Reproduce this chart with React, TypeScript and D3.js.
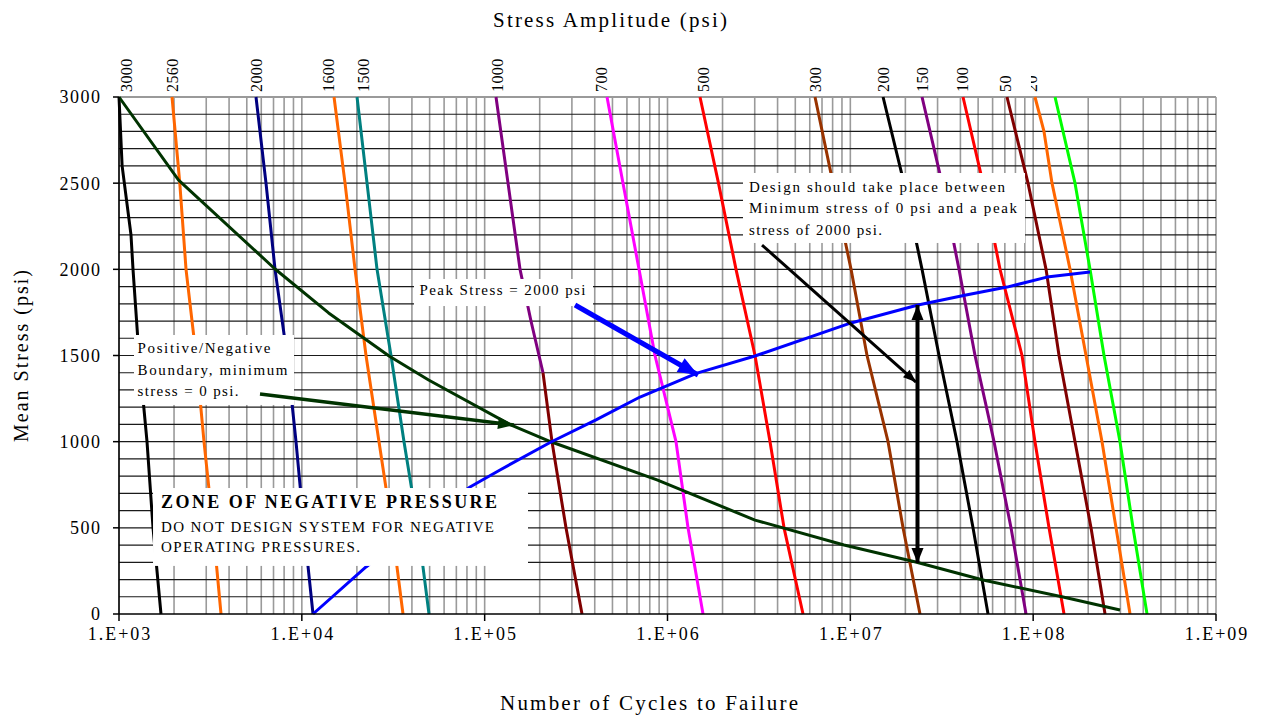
import React from "react";
import * as d3 from "d3";

type Pt = [number, number]; // [cycles to failure, mean stress psi]

// axis ticks
const xTickValues = [1e3, 1e4, 1e5, 1e6, 1e7, 1e8, 1e9];
const xTickLabels = ["1.E+03", "1.E+04", "1.E+05", "1.E+06", "1.E+07", "1.E+08", "1.E+09"];
const yTickValues = [0, 500, 1000, 1500, 2000, 2500, 3000];

// constant stress amplitude curves (psi)
const amp3000: Pt[] = [[1000, 3000], [1040, 2600], [1163, 2200], [1193, 2000], [1286, 1500], [1423, 1000], [1535, 500], [1697, 0]];
const amp2560: Pt[] = [[1950, 3000], [2150, 2500], [2326, 2000], [2638, 1500], [2917, 1000], [3268, 500], [3614, 0]];
const amp2000: Pt[] = [[5615, 3000], [6368, 2500], [7135, 2000], [8297, 1500], [9292, 1000], [10277, 500], [11510, 0]];
const amp1600: Pt[] = [[15000, 3000], [17230, 2500], [19540, 2000], [22440, 1500], [26430, 1000], [31130, 500], [35760, 0]];
const amp1500: Pt[] = [[20040, 3000], [22730, 2500], [25780, 2000], [30740, 1500], [36210, 1000], [43190, 500], [49610, 0]];
const amp1000Upper: Pt[] = [[115360, 3000], [134200, 2500], [156100, 2000], [179200, 1700], [208500, 1400]];
const amp1000Lower: Pt[] = [[208500, 1400], [233500, 1000], [278500, 500], [340800, 0]];
const amp700: Pt[] = [[466900, 3000], [571000, 2500], [698700, 2000], [854400, 1500], [1113000, 1000], [1295000, 500], [1564000, 0]];
const amp500: Pt[] = [[1506000, 3000], [1900000, 2500], [2370000, 2000], [3010000, 1500], [3637000, 1000], [4339000, 500], [5511000, 0]];
const amp300: Pt[] = [[6410000, 3000], [8040000, 2500], [10090000, 2000], [12340000, 1500], [16080000, 1000], [19420000, 500], [24050000, 0]];
const amp200: Pt[] = [[15100000, 3000], [19660000, 2500], [24670000, 2000], [30560000, 1500], [38320000, 1000], [46880000, 500], [56640000, 0]];
const amp150: Pt[] = [[24670000, 3000], [31740000, 2500], [39290000, 2000], [48080000, 1500], [61090000, 1000], [75650000, 500], [91400000, 0]];
const amp100: Pt[] = [[41330000, 3000], [53170000, 2500], [65870000, 2000], [86900000, 1500], [102300000, 1000], [122100000, 500], [147500000, 0]];
const amp50: Pt[] = [[71930000, 3000], [93720000, 2500], [117600000, 2000], [138500000, 1500], [169400000, 1000], [207200000, 500], [247200000, 0]];
const amp20: Pt[] = [[102300000, 3000], [114600000, 2800], [126800000, 2500], [159100000, 2000], [194600000, 1500], [238000000, 1000], [283900000, 500], [338700000, 0]];
const amp0: Pt[] = [[131700000, 3000], [169400000, 2500], [204600000, 2000], [244100000, 1500], [298500000, 1000], [351700000, 500], [419500000, 0]];

// minimum stress = 0 boundary and peak stress = 2000 psi line
const minStressZero: Pt[] = [[1000, 3000], [2118, 2518], [7135, 2002], [14010, 1747], [29990, 1497], [49370, 1358], [138800, 1097], [232100, 998], [876100, 778], [3010000, 545], [9235000, 400], [22790000, 302], [53190000, 197], [145600000, 99], [298500000, 23]];
const peakStress2000: Pt[] = [[11510, 0], [22440, 273], [83140, 737], [121300, 836], [230600, 998], [406300, 1126], [707400, 1259], [1450000, 1398], [3010000, 1497], [10090000, 1689], [23460000, 1793], [42920000, 1851], [71930000, 1897], [119000000, 1955], [204600000, 1985]];

const curves = [
  { id: "3000", label: "3000", data: amp3000 },
  { id: "2560", label: "2560", data: amp2560 },
  { id: "2000", label: "2000", data: amp2000 },
  { id: "1600", label: "1600", data: amp1600 },
  { id: "1500", label: "1500", data: amp1500 },
  { id: "1000a", label: "1000", data: amp1000Upper },
  { id: "1000b", label: "", data: amp1000Lower },
  { id: "700", label: "700", data: amp700 },
  { id: "500", label: "500", data: amp500 },
  { id: "300", label: "300", data: amp300 },
  { id: "200", label: "200", data: amp200 },
  { id: "150", label: "150", data: amp150 },
  { id: "100", label: "100", data: amp100 },
  { id: "50", label: "50", data: amp50 },
  { id: "20", label: "20", data: amp20 },
  { id: "0", label: "", data: amp0 },
];

const curveStyle: Record<string, { color: string; dx: number }> = {
  "3000": { color: "#000000", dx: 7 },
  "2560": { color: "#ff6600", dx: 0 },
  "2000": { color: "#000080", dx: 0 },
  "1600": { color: "#ff6600", dx: -6 },
  "1500": { color: "#008080", dx: 6 },
  "1000a": { color: "#800080", dx: 1 },
  "1000b": { color: "#800000", dx: 0 },
  "700": { color: "#ff00ff", dx: -6 },
  "500": { color: "#ff0000", dx: 3 },
  "300": { color: "#993300", dx: 0 },
  "200": { color: "#000000", dx: 0 },
  "150": { color: "#800080", dx: 0 },
  "100": { color: "#ff0000", dx: -1 },
  "50": { color: "#800000", dx: -2 },
  "20": { color: "#ff6600", dx: -4 },
  "0": { color: "#00ff00", dx: 0 },
};

// annotation boxes: [cycles, mean] of top-left and bottom-right corners
const noteBoxes = [
  {
    id: "zone", from: [1535, 731] as Pt, to: [172600, 279] as Pt, pad: 8,
    lines: [
      { text: "ZONE OF NEGATIVE PRESSURE", dy: 20, size: 18, bold: true, len: 336 },
      { text: "DO NOT DESIGN SYSTEM FOR NEGATIVE", dy: 44, size: 15, bold: false, len: 333 },
      { text: "OPERATING PRESSURES.", dy: 64, size: 15, bold: false, len: 199 },
    ],
  },
  {
    id: "posneg", from: [1208, 1619] as Pt, to: [9063, 1213] as Pt, pad: 3.5,
    lines: [
      { text: "Positive/Negative", dy: 18, size: 15, bold: false, len: 133 },
      { text: "Boundary, minimum", dy: 40, size: 15, bold: false, len: 150 },
      { text: "stress = 0 psi.", dy: 61, size: 15, bold: false, len: 101 },
    ],
  },
  {
    id: "peak", from: [41070, 1944] as Pt, to: [391300, 1787] as Pt, pad: 5.5,
    lines: [{ text: "Peak Stress = 2000 psi", dy: 16, size: 15, bold: false, len: 166 }],
  },
  {
    id: "design", from: [2588000, 2559] as Pt, to: [90240000, 2153] as Pt, pad: 6,
    lines: [
      { text: "Design should take place between", dy: 19, size: 15, bold: false, len: 256 },
      { text: "Minimum stress of  0 psi and a peak", dy: 40, size: 15, bold: false, len: 268 },
      { text: "stress of 2000 psi.", dy: 62, size: 15, bold: false, len: 133 },
    ],
  },
];

const noteArrows = [
  { id: "boundary", from: [5905, 1277] as Pt, to: [144700, 1097] as Pt, color: "#003300", width: 3.5, head: 16, half: 6, both: false },
  { id: "peak", from: [312000, 1793] as Pt, to: [1469000, 1387] as Pt, color: "#0000ff", width: 5, head: 20, half: 8, both: false },
  { id: "design", from: [3288000, 2141] as Pt, to: [22870000, 1346] as Pt, color: "#000000", width: 3, head: 13, half: 5, both: false },
  { id: "range", from: [23300000, 1793] as Pt, to: [23300000, 296] as Pt, color: "#000000", width: 4, head: 15, half: 6, both: true },
];

const font = "'Liberation Serif', 'Times New Roman', serif";

function head(tip: number[], base: number[], len: number, half: number) {
  const dx = tip[0] - base[0];
  const dy = tip[1] - base[1];
  const d = Math.hypot(dx, dy);
  const ux = dx / d, uy = dy / d;
  const bx = tip[0] - ux * len, by = tip[1] - uy * len;
  return `${tip[0]},${tip[1]} ${bx - uy * half},${by + ux * half} ${bx + uy * half},${by - ux * half}`;
}

export default function App() {
  const x = d3.scaleLog().domain([1e3, 1e9]).range([119, 1216]);
  const y = d3.scaleLinear().domain([0, 3000]).range([614, 97]);
  const line = d3.line<Pt>().x((d) => x(d[0])).y((d) => y(d[1]));
  const vGrid = x.ticks();
  const hGrid = y.ticks(30).filter((v) => v > 0 && v < 3000);
  const [x0, x1] = x.range();
  const [y0, y1] = y.range();

  return (
    <svg width={1262} height={716} style={{ position: "absolute", left: 0, top: 0, background: "#fff" }} fontFamily={font}>
      <defs>
        <clipPath id="clip20">
          <rect x={0} y={0} width={1037} height={100} />
        </clipPath>
      </defs>
      <rect width={1262} height={716} fill="#fff" />

      {vGrid.map((v) => (
        <line key={"v" + v} x1={x(v)} x2={x(v)} y1={y1} y2={y0} stroke="#9a9a9a" strokeWidth={1.6} />
      ))}
      {hGrid.map((v) => (
        <line key={"h" + v} x1={x0} x2={x1} y1={y(v)} y2={y(v)} stroke="#1a1a1a" strokeWidth={1.2} />
      ))}
      <line x1={x0} x2={x1} y1={y(3000)} y2={y(3000)} stroke="#9a9a9a" strokeWidth={2} />

      {curves.map((c) => (
        <path key={c.id} d={line(c.data) || ""} fill="none" stroke={curveStyle[c.id].color} strokeWidth={3} strokeLinejoin="round" />
      ))}
      <path d={line(minStressZero) || ""} fill="none" stroke="#003300" strokeWidth={3} strokeLinejoin="round" />
      <path d={line(peakStress2000) || ""} fill="none" stroke="#0000ff" strokeWidth={3} strokeLinejoin="round" />

      {/* axes */}
      <line x1={x0} x2={x0} y1={y1} y2={y0} stroke="#000" strokeWidth={1.5} />
      <line x1={x0} x2={x1} y1={y0} y2={y0} stroke="#000" strokeWidth={1.5} />
      {yTickValues.map((v) => (
        <g key={"yt" + v}>
          <line x1={x0 - 6} x2={x0} y1={y(v)} y2={y(v)} stroke="#000" strokeWidth={1.5} />
          <text x={101.5} y={y(v)} dy="0.36em" textAnchor="end" fontSize={18} style={{ letterSpacing: "1.5px" }}>
            {v}
          </text>
        </g>
      ))}
      {xTickValues.map((v, i) => (
        <g key={"xt" + v}>
          <line x1={x(v)} x2={x(v)} y1={y0} y2={y0 + 7} stroke="#000" strokeWidth={1.5} />
          <text x={x(v) + 1} y={640} textAnchor="middle" fontSize={18} style={{ letterSpacing: "2px" }}>
            {xTickLabels[i]}
          </text>
        </g>
      ))}

      {/* note boxes */}
      {noteBoxes.map((b) => {
        const bx = x(b.from[0]);
        const by = y(b.from[1]);
        return (
          <g key={b.id}>
            <rect x={bx} y={by} width={x(b.to[0]) - bx} height={y(b.to[1]) - by} fill="#fff" />
            {b.lines.map((l, i) => (
              <text
                key={i}
                x={bx + b.pad}
                y={by + l.dy}
                fontSize={l.size}
                fontWeight={l.bold ? "bold" : "normal"}
                textLength={l.len}
                lengthAdjust="spacing"
                fill="#000"
              >
                {l.text}
              </text>
            ))}
          </g>
        );
      })}

      {/* arrows */}
      {noteArrows.map((a) => {
        const p0 = [x(a.from[0]), y(a.from[1])];
        const p1 = [x(a.to[0]), y(a.to[1])];
        return (
          <g key={a.id}>
            <line x1={p0[0]} y1={p0[1]} x2={p1[0]} y2={p1[1]} stroke={a.color} strokeWidth={a.width} />
            <polygon points={head(p1, p0, a.head, a.half)} fill={a.color} />
            {a.both && <polygon points={head(p0, p1, a.head, a.half)} fill={a.color} />}
          </g>
        );
      })}

      {/* amplitude labels */}
      {curves
        .filter((c) => c.label)
        .map((c) => {
          const cx = x(c.data[0][0]) + curveStyle[c.id].dx;
          return (
            <text
              key={"lab" + c.id}
              transform={`translate(${cx},92) rotate(-90)`}
              dy="0.35em"
              fontSize={16}
              style={{ letterSpacing: "0.4px" }}
              clipPath={c.id === "20" ? "url(#clip20)" : undefined}
            >
              {c.label}
            </text>
          );
        })}

      {/* titles */}
      <text x={610} y={27} textAnchor="middle" fontSize={21} textLength={234} lengthAdjust="spacing">
        Stress Amplitude (psi)
      </text>
      <text x={649} y={710} textAnchor="middle" fontSize={21} textLength={298} lengthAdjust="spacing">
        Number of Cycles to Failure
      </text>
      <text transform="translate(28,356) rotate(-90)" textAnchor="middle" fontSize={20} textLength={172} lengthAdjust="spacing">
        Mean Stress (psi)
      </text>
    </svg>
  );
}
